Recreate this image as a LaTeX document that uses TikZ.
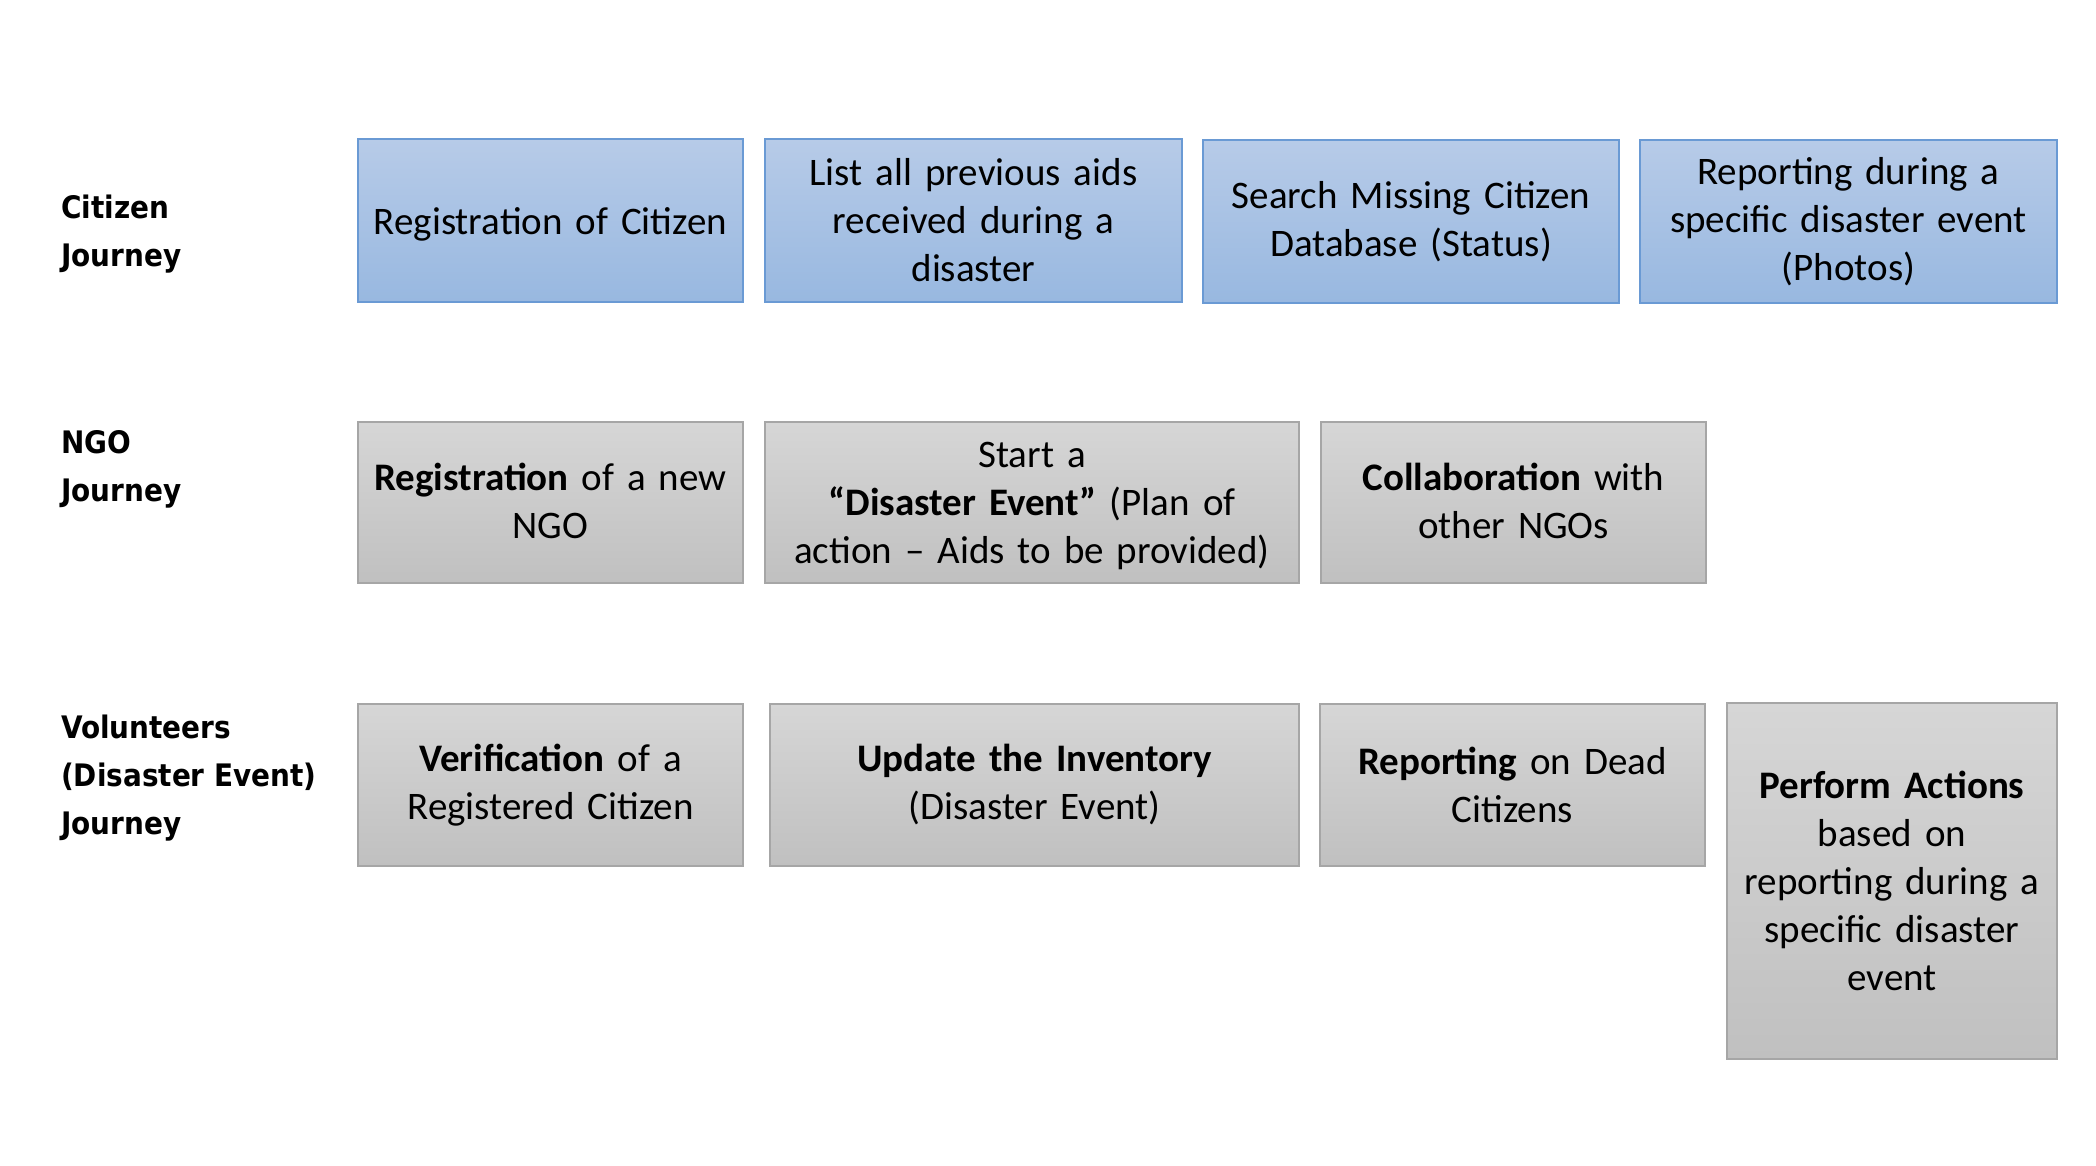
\documentclass[tikz,border=0pt]{standalone}
\usepackage{fontspec}
\setmainfont{Carlito}[WordSpace=0.85]
\newfontfamily\labfont{DejaVu Sans Condensed}
\begin{document}
\begin{tikzpicture}[x=1pt,y=1pt,
  boxtext/.style={font=\fontsize{39}{48}\selectfont, align=center, inner sep=0pt},
  bluebox/.style={boxtext, rectangle, line width=2.2pt,
    draw={rgb,255:red,106;green,154;blue,212},
    top color={rgb,255:red,183;green,203;blue,232},
    bottom color={rgb,255:red,152;green,184;blue,224}},
  greybox/.style={boxtext, rectangle, line width=2.2pt,
    draw={rgb,255:red,166;green,166;blue,166},
    top color={rgb,255:red,214;green,214;blue,214},
    bottom color={rgb,255:red,192;green,192;blue,192}},
  lanelabel/.style={font=\labfont\bfseries\fontsize{31}{48}\selectfont, align=left, anchor=west, inner sep=0pt}
]
\useasboundingbox[fill=white] (0,0) rectangle (2096,1166);

% lane titles
\node[lanelabel] (lcit) at (61,932) {Citizen\\Journey};
\node[lanelabel] (lngo) at (61,697) {NGO\\Journey};
\node[lanelabel] (lvol) at (61,388) {Volunteers\\(Disaster Event)\\Journey};

% citizen journey
\node[bluebox, minimum width=385, minimum height=163, text width=370] (c1) at (550.5,945.5) {};
\node[boxtext, text width=370, yshift=-4pt] (c1t) at (c1) {Registration of Citizen};
\node[bluebox, minimum width=417, minimum height=163, text width=400] (c2) at (973.5,945.5) {List all previous aids\\received during a\\disaster};
\node[bluebox, minimum width=416, minimum height=163, text width=400] (c3) at (1411,944.5) {Search Missing Citizen\\Database (Status)};
\node[bluebox, minimum width=417, minimum height=163, text width=400] (c4) at (1848.5,944.5) {Reporting during a\\specific disaster event\\(Photos)};

% NGO journey
\node[greybox, minimum width=385, minimum height=161] (n1) at (550.5,663.5) {};
\node[boxtext, text width=370, yshift=2pt] (n1t) at (n1) {\textbf{Registration} of a new\\NGO};
\node[greybox, minimum width=534, minimum height=161] (n2) at (1032,663.5) {};
\node[boxtext, text width=520, yshift=-4pt] (n2t) at (n2) {Start a\\\textbf{“Disaster Event”} (Plan of\\action – Aids to be provided)};
\node[greybox, minimum width=385, minimum height=161] (n3) at (1513.5,663.5) {};
\node[boxtext, text width=370, yshift=2pt] (n3t) at (n3) {\textbf{Collaboration} with\\other NGOs};

% volunteers journey
\node[greybox, minimum width=385, minimum height=162, text width=370] (v1) at (550.5,381) {\textbf{Verification} of a\\Registered Citizen};
\node[greybox, minimum width=529, minimum height=162, text width=510] (v2) at (1034.5,381) {\textbf{Update the Inventory}\\(Disaster Event)};
\node[greybox, minimum width=385, minimum height=162, text width=370] (v3) at (1512.5,381) {\textbf{Reporting} on Dead\\Citizens};
\node[greybox, minimum width=330, minimum height=356, text width=320] (v4) at (1892,285) {\textbf{Perform Actions}\\based on\\reporting during a\\specific disaster\\event};
\end{tikzpicture}
\end{document}
